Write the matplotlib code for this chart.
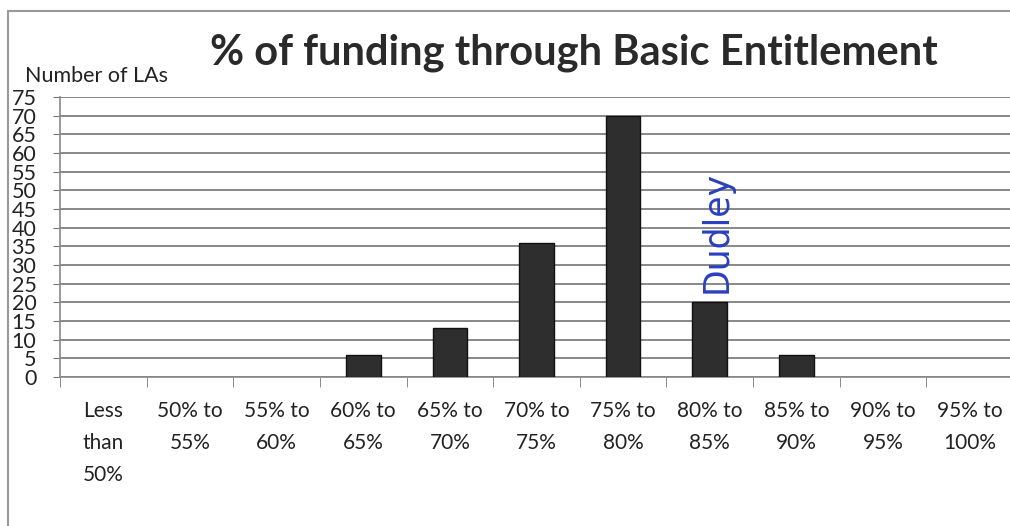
import numpy as np
import matplotlib.pyplot as plt
from matplotlib.patches import Rectangle

plt.rcParams['font.family'] = ['Lato', 'DejaVu Sans']

categories = ['Less\nthan\n50%', '50% to\n55%', '55% to\n60%', '60% to\n65%', '65% to\n70%',
              '70% to\n75%', '75% to\n80%', '80% to\n85%', '85% to\n90%', '90% to\n95%',
              '95% to\n100%']
counts = [0, 0, 0, 6, 13, 36, 70, 20, 6, 0, 0]
y_ticks = list(range(0, 80, 5))

fig = plt.figure(figsize=(10.1, 5.26), dpi=100)
ax = fig.add_axes([0.0594, 0.2833, 0.9436, 0.5323])

x = np.arange(len(categories))
# zero-height bars leave no mark in the original
edge_w = [1 if c > 0 else 0 for c in counts]
ax.bar(x, counts, width=0.4, color='#2e2e2e', edgecolor='#111111', linewidth=edge_w, zorder=3)

ax.set_xlim(-0.5, len(categories) - 0.5)
ax.set_ylim(0, 75)
ax.set_yticks(y_ticks)
ax.set_yticklabels([str(v) for v in y_ticks], fontsize=15.5, color='#222222')
ax.tick_params(axis='y', length=5, pad=12, color='#777777')
ax.yaxis.grid(True, color='#888888', linewidth=1.4, zorder=0)

ax.set_xticks(x)
ax.set_xticklabels(categories, fontsize=15, color='#222222', linespacing=1.75)
ax.tick_params(axis='x', which='major', length=0, pad=17)
ax.set_xticks(np.arange(-0.5, len(categories), 1), minor=True)
ax.tick_params(axis='x', which='minor', length=7, color='#777777', direction='out')

for s in ['top', 'right']:
    ax.spines[s].set_visible(False)
ax.spines['left'].set_color('#888888')
ax.spines['bottom'].set_color('#888888')
ax.spines['left'].set_linewidth(1.2)
ax.spines['bottom'].set_linewidth(1.2)

fig.text(0.568, 0.900, '% of funding through Basic Entitlement', ha='center', va='center',
         fontsize=30, fontweight='bold', color='#2a2a2a')
fig.text(0.025, 0.855, 'Number of LAs', ha='left', va='center', fontsize=15.5, color='#222222')

ax.text(7.08, 39, 'Dudley', rotation=90, ha='center', va='center', fontsize=25,
        color='#2a3fc0', family=['DejaVu Sans'], zorder=4)

fig.patches.append(Rectangle((0.008, -0.01), 1.0, 0.99, transform=fig.transFigure,
                             fill=False, edgecolor='#999999', linewidth=1.5))

fig.savefig('out.png', dpi=100)
